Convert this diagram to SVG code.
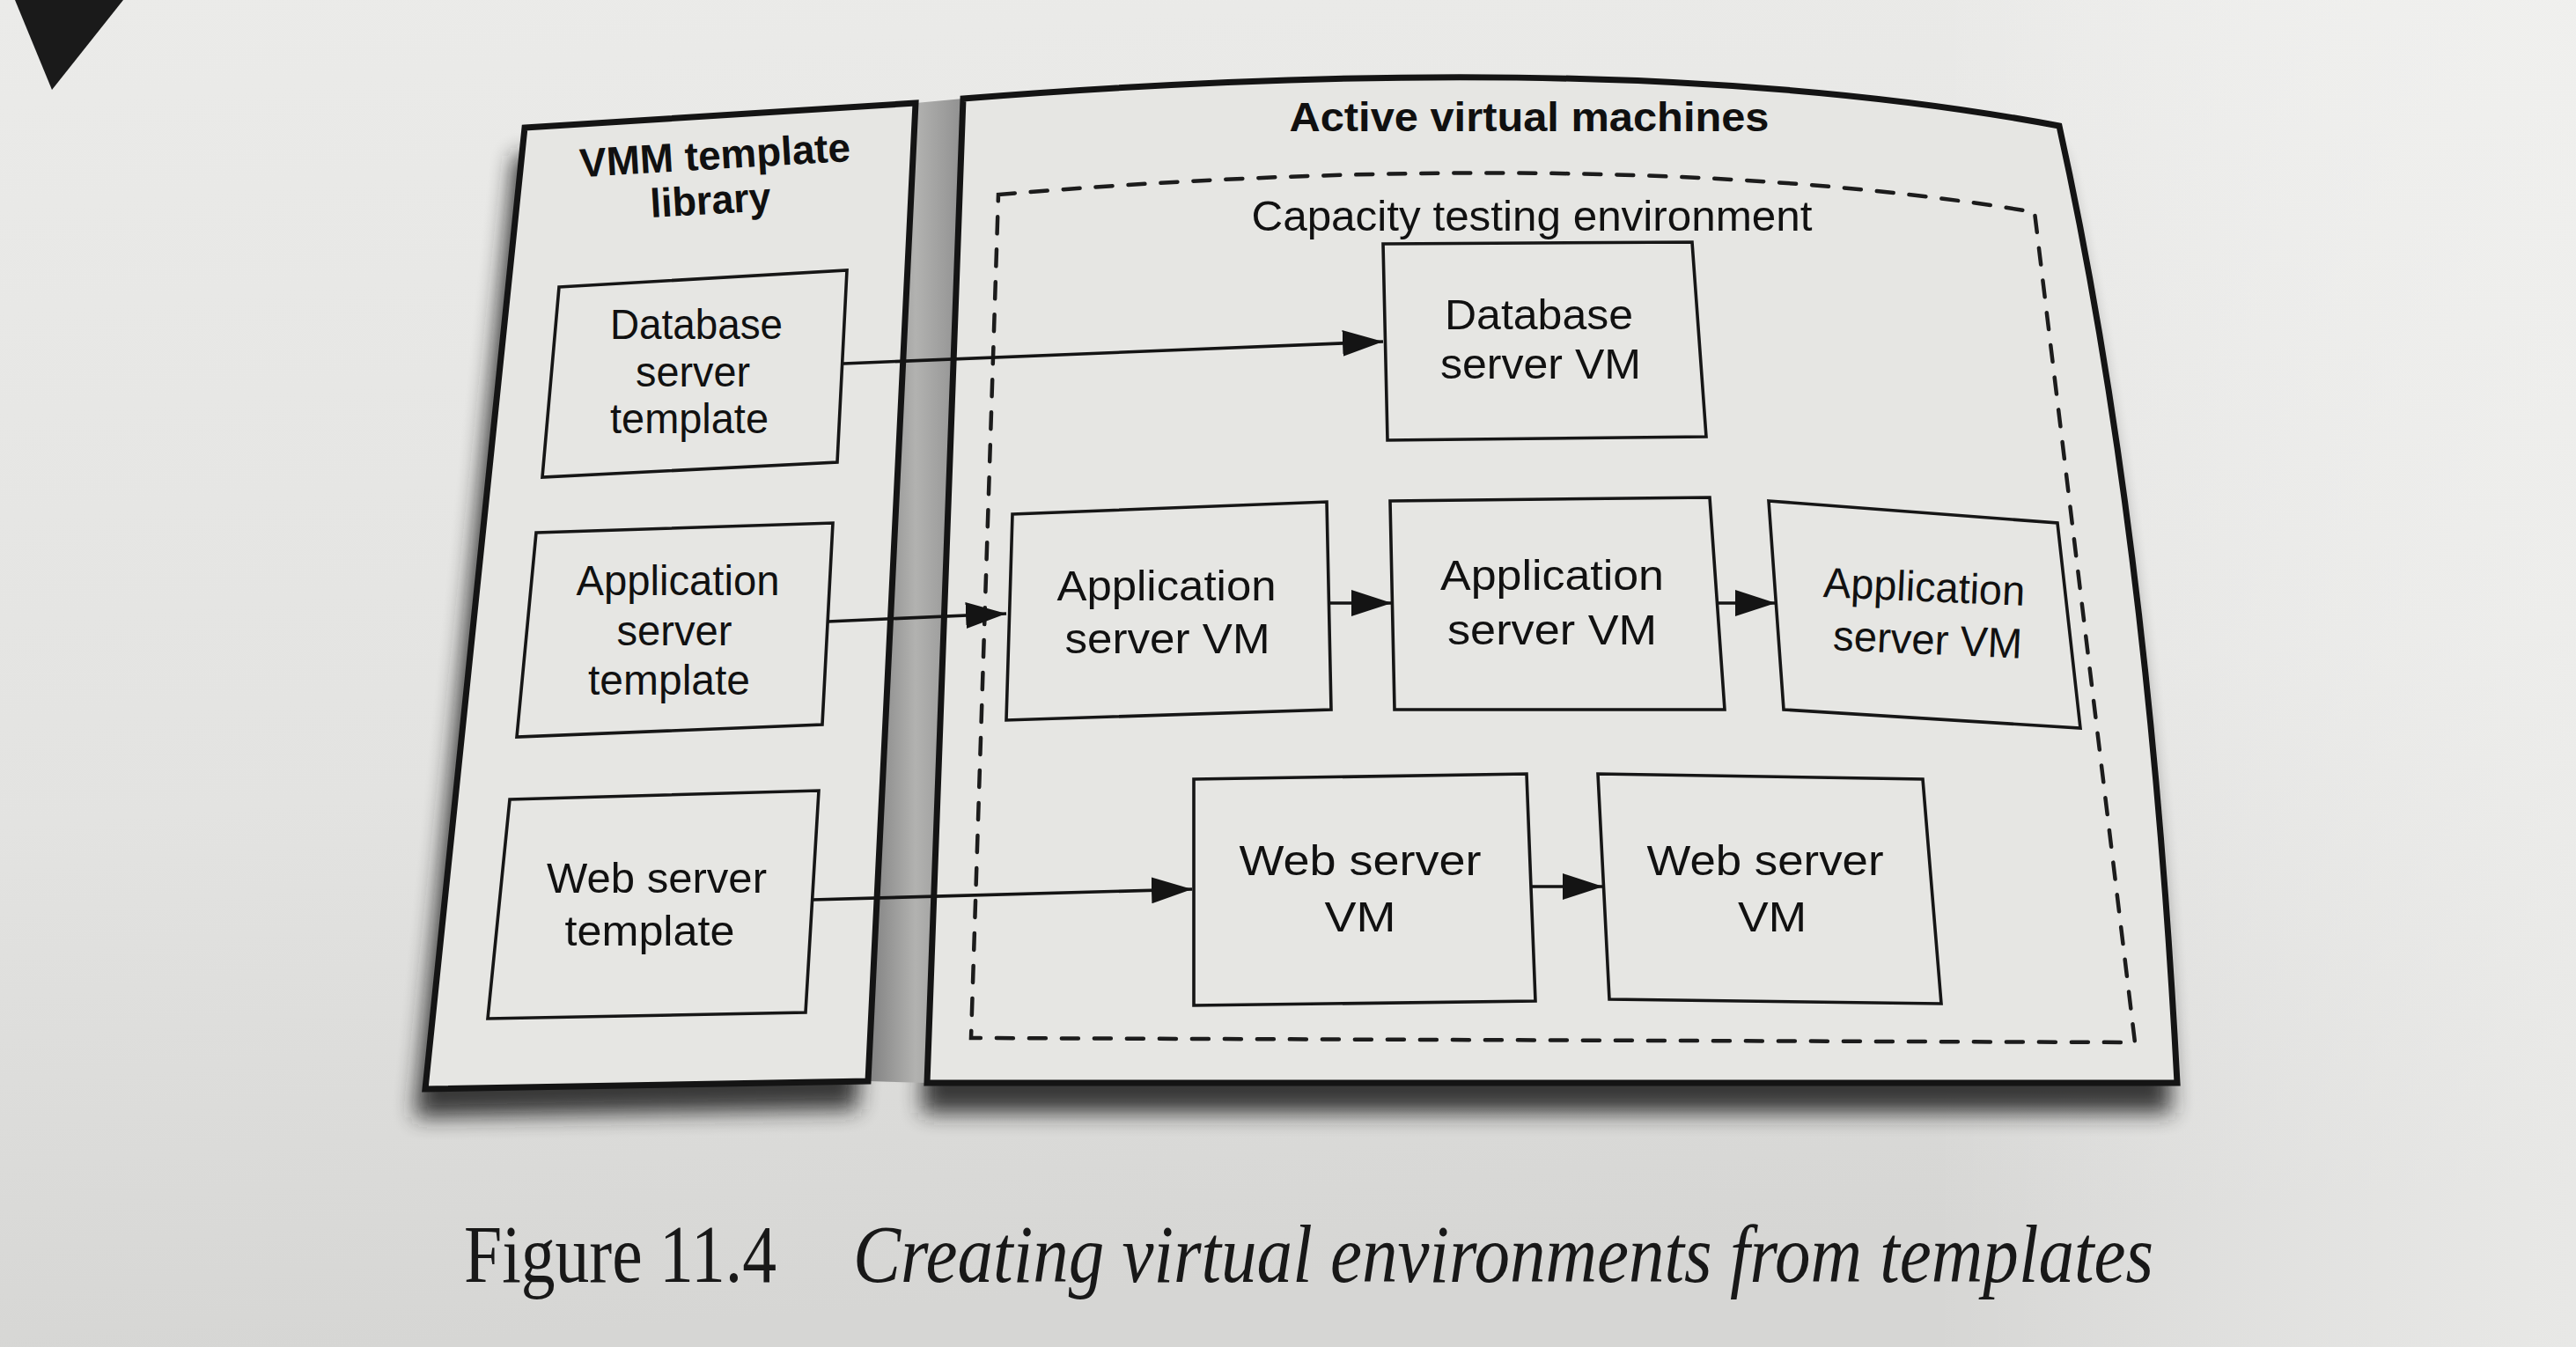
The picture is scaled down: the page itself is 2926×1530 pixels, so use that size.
<svg xmlns="http://www.w3.org/2000/svg" width="2926" height="1530" viewBox="0 0 2926 1530">
  <defs>
    <linearGradient id="page" x1="0" y1="0" x2="0.15" y2="1">
      <stop offset="0" stop-color="#ebebe9"/>
      <stop offset="0.6" stop-color="#e3e3e1"/>
      <stop offset="1" stop-color="#d6d6d4"/>
    </linearGradient>
    <linearGradient id="pageR" x1="0" y1="0" x2="1" y2="0">
      <stop offset="0.75" stop-color="#ffffff" stop-opacity="0"/>
      <stop offset="1" stop-color="#f4f4f2" stop-opacity="0.6"/>
    </linearGradient>
    <linearGradient id="gap" x1="0" y1="0" x2="1" y2="0">
      <stop offset="0" stop-color="#808080"/>
      <stop offset="0.5" stop-color="#b2b2b0"/>
      <stop offset="1" stop-color="#909090"/>
    </linearGradient>
    <filter id="blur" x="-10%" y="-10%" width="120%" height="120%">
      <feGaussianBlur stdDeviation="12"/>
    </filter>
    <marker id="arrow" markerUnits="userSpaceOnUse" markerWidth="46" markerHeight="30" refX="46" refY="15" orient="auto">
      <path d="M0,0 L46,15 L0,30 Z" fill="#141414"/>
    </marker>
    <style>
      .panel { fill: #e6e6e3; stroke: #141414; stroke-width: 7; stroke-linejoin: miter; }
      .shadow { fill: #222; opacity: 0.88; filter: url(#blur); }
      .box { fill: #e6e6e3; stroke: #161616; stroke-width: 3.6; stroke-linejoin: miter; }
      .dash { fill: none; stroke: #1c1c1c; stroke-width: 4.5; stroke-dasharray: 19 18; stroke-linecap: round; }
      .conn { fill: none; stroke: #141414; stroke-width: 3.6; marker-end: url(#arrow); }
      .lbl { font-family: "Liberation Sans", Arial, Helvetica, sans-serif; font-size: 48px; fill: #111; text-anchor: middle; }
      .ttl { font-family: "Liberation Sans", Arial, Helvetica, sans-serif; font-size: 46px; font-weight: bold; fill: #101010; text-anchor: middle; }
      .cap { font-family: "Liberation Serif", "Times New Roman", serif; font-size: 94px; fill: #181818; }
    </style>
  </defs>

  <!-- page -->
  <rect x="0" y="0" width="2926" height="1530" fill="url(#page)"/>
  <rect x="0" y="0" width="2926" height="1530" fill="url(#pageR)"/>
  <polygon points="17,0 140,0 59,102" fill="#1a1a1a"/>

  <!-- shadows -->
  <g id="shadows">
    <path class="shadow" transform="translate(-12,32)" d="M596,145 L1040,117 L986,1228 L483,1237 Z"/>
    <path class="shadow" transform="translate(-6,34)" d="M1094,112 C1500,80 1950,70 2339,143 Q2440,600 2473,1230 L1053,1230 Z"/>
    <polygon points="1040,117 1094,112 1053,1230 986,1228" fill="url(#gap)"/>
  </g>

  <!-- containers -->
  <g id="template-library">
    <path class="panel" d="M596,145 L1040,117 L986,1228 L483,1237 Z"/>
    <text class="ttl" x="813" y="192" textLength="308" lengthAdjust="spacingAndGlyphs" transform="rotate(-3.4 813 192)">VMM template</text>
    <text class="ttl" x="808" y="243" textLength="137" lengthAdjust="spacingAndGlyphs" transform="rotate(-3.4 808 243)">library</text>
  </g>
  <g id="active-vms">
    <path class="panel" d="M1094,112 C1500,80 1950,70 2339,143 Q2440,600 2473,1230 L1053,1230 Z"/>
    <text class="ttl" x="1737" y="149" textLength="545" lengthAdjust="spacingAndGlyphs">Active virtual machines</text>
  </g>
  <g id="capacity-env">
    <path class="dash" d="M1134,221 C1500,190 1950,180 2311,241 L2425,1184 L1103,1179 Z"/>
    <text class="lbl" x="1740" y="262" textLength="637" lengthAdjust="spacingAndGlyphs">Capacity testing environment</text>
  </g>

  <!-- template nodes -->
  <g id="db-template">
    <polygon class="box" points="635,326 962,307 951,525 616,542"/>
    <text class="lbl" x="791" y="385" textLength="196" lengthAdjust="spacingAndGlyphs">Database</text>
    <text class="lbl" x="787" y="439" textLength="130" lengthAdjust="spacingAndGlyphs">server</text>
    <text class="lbl" x="783" y="492" textLength="180" lengthAdjust="spacingAndGlyphs">template</text>
  </g>
  <g id="app-template">
    <polygon class="box" points="609,605 946,594 934,823 587,837"/>
    <text class="lbl" x="770" y="676" textLength="231" lengthAdjust="spacingAndGlyphs">Application</text>
    <text class="lbl" x="766" y="733" textLength="131" lengthAdjust="spacingAndGlyphs">server</text>
    <text class="lbl" x="760" y="789" textLength="184" lengthAdjust="spacingAndGlyphs">template</text>
  </g>
  <g id="web-template">
    <polygon class="box" points="579,908 930,898 915,1150 554,1157"/>
    <text class="lbl" x="746" y="1014" textLength="250" lengthAdjust="spacingAndGlyphs">Web server</text>
    <text class="lbl" x="738" y="1074" textLength="193" lengthAdjust="spacingAndGlyphs">template</text>
  </g>

  <!-- VM nodes -->
  <g id="db-vm">
    <polygon class="box" points="1571,277 1922,275 1938,496 1576,500"/>
    <text class="lbl" x="1748" y="374" textLength="214" lengthAdjust="spacingAndGlyphs">Database</text>
    <text class="lbl" x="1750" y="430" textLength="228" lengthAdjust="spacingAndGlyphs">server VM</text>
  </g>
  <g id="app-vm-1">
    <polygon class="box" points="1150,584 1507,570 1512,806 1143,818"/>
    <text class="lbl" x="1325" y="682" textLength="249" lengthAdjust="spacingAndGlyphs">Application</text>
    <text class="lbl" x="1326" y="742" textLength="233" lengthAdjust="spacingAndGlyphs">server VM</text>
  </g>
  <g id="app-vm-2">
    <polygon class="box" points="1579,569 1942,565 1959,806 1584,806"/>
    <text class="lbl" x="1763" y="670" textLength="254" lengthAdjust="spacingAndGlyphs">Application</text>
    <text class="lbl" x="1763" y="732" textLength="238" lengthAdjust="spacingAndGlyphs">server VM</text>
  </g>
  <g id="app-vm-3">
    <polygon class="box" points="2009,569 2337,594 2363,827 2026,806"/>
    <text class="lbl" x="2185" y="683" textLength="229" lengthAdjust="spacingAndGlyphs" transform="rotate(2.5 2185 683)">Application</text>
    <text class="lbl" x="2189" y="743" textLength="215" lengthAdjust="spacingAndGlyphs" transform="rotate(2.5 2189 743)">server VM</text>
  </g>
  <g id="web-vm-1">
    <polygon class="box" points="1356,885 1734,879 1744,1137 1356,1142"/>
    <text class="lbl" x="1545" y="994" textLength="275" lengthAdjust="spacingAndGlyphs">Web server</text>
    <text class="lbl" x="1545" y="1058" textLength="81" lengthAdjust="spacingAndGlyphs">VM</text>
  </g>
  <g id="web-vm-2">
    <polygon class="box" points="1815,879 2184,885 2205,1140 1828,1135"/>
    <text class="lbl" x="2005" y="994" textLength="269" lengthAdjust="spacingAndGlyphs">Web server</text>
    <text class="lbl" x="2013" y="1058" textLength="78" lengthAdjust="spacingAndGlyphs">VM</text>
  </g>

  <!-- connectors -->
  <g id="connectors">
    <line class="conn" x1="958" y1="413" x2="1571" y2="388"/>
    <line class="conn" x1="940" y1="706" x2="1143" y2="697"/>
    <line class="conn" x1="922" y1="1022" x2="1354" y2="1010"/>
    <line class="conn" x1="1509" y1="685" x2="1581" y2="685"/>
    <line class="conn" x1="1950" y1="685" x2="2017" y2="685"/>
    <line class="conn" x1="1739" y1="1007" x2="1821" y2="1007"/>
  </g>

  <!-- caption -->
  <g id="caption">
    <text class="cap" x="527" y="1456" textLength="355" lengthAdjust="spacingAndGlyphs">Figure 11.4</text>
    <text class="cap" x="969" y="1456" font-style="italic" textLength="1477" lengthAdjust="spacingAndGlyphs">Creating virtual environments from templates</text>
  </g>
</svg>
